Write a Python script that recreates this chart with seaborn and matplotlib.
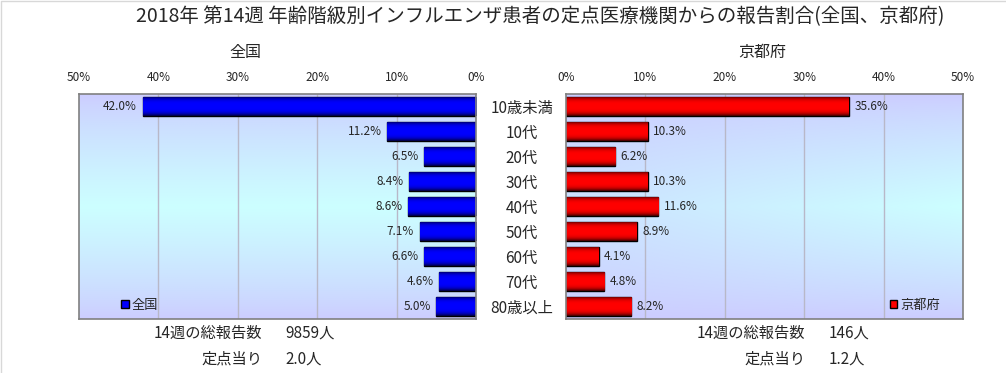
"""
2018 week 14 influenza age-group report share: nationwide vs Kyoto.
"""
import numpy as np
import pandas as pd
import matplotlib
matplotlib.use('Agg')
import matplotlib.pyplot as plt
import seaborn as sns
from matplotlib.patches import Patch
from matplotlib.lines import Line2D
from matplotlib.ticker import FuncFormatter

# data
age_groups = ['10歳未満', '10代', '20代', '30代', '40代', '50代', '60代', '70代', '80歳以上']
zenkoku = [42.0, 11.2, 6.5, 8.4, 8.6, 7.1, 6.6, 4.6, 5.0]
kyoto = [35.6, 10.3, 6.2, 10.3, 11.6, 8.9, 4.1, 4.8, 8.2]
title = '2018年 第14週 年齢階級別インフルエンザ患者の定点医療機関からの報告割合(全国、京都府)'
zenkoku_total = ('14週の総報告数', '9859人')
zenkoku_per = ('定点当り', '2.0人')
kyoto_total = ('14週の総報告数', '146人')
kyoto_per = ('定点当り', '1.2人')

sns.set_theme(style='white')
plt.rcParams['font.family'] = ['Noto Sans CJK JP', 'DejaVu Sans']

W, H = 1006, 373
fig = plt.figure(figsize=(W / 100, H / 100), dpi=100)
fig.patch.set_facecolor('white')


def px(x0, y0, x1, y1):
    """pixel box (top-left origin) -> figure rect"""
    return [x0 / W, 1 - y1 / H, (x1 - x0) / W, (y1 - y0) / H]


ax_l = fig.add_axes(px(79, 94, 476, 319))
ax_r = fig.add_axes(px(566, 94, 963, 319))

lav = np.array([0.80, 0.80, 1.00])
cyan = np.array([0.80, 1.00, 1.00])


def background(ax, kind):
    ny, nx = 200, 200
    yy, xx = np.mgrid[0:1:ny * 1j, 0:1:nx * 1j]
    tv = 1 - np.abs(yy - 0.5) * 2
    if kind == 'left':
        t = tv
    else:
        t = tv * (0.35 + 0.65 * xx)
    t = np.clip(t, 0, 1) ** 0.8
    img = lav[None, None, :] * (1 - t[..., None]) + cyan[None, None, :] * t[..., None]
    ax.imshow(img, extent=[0, 1, 0, 1], transform=ax.transAxes, aspect='auto', zorder=0)


def shade_bars(ax, base):
    base = np.array(base)
    prof = np.linspace(-1, 1, 64)
    k = 0.22 + 0.78 * (1 - np.abs(prof) ** 3.5)
    img = base[None, :] * k[:, None]
    img = img[:, None, :]
    for p in ax.patches:
        x, y = p.get_x(), p.get_y()
        w, h = p.get_width(), p.get_height()
        im = ax.imshow(img, extent=[x, x + w, y + h, y], aspect='auto', zorder=3)
        im.set_clip_path(p)


df_l = pd.DataFrame({'age': age_groups, 'pct': zenkoku})
df_r = pd.DataFrame({'age': age_groups, 'pct': kyoto})

for ax, df, col, side in [(ax_l, df_l, (0.0, 0.0, 1.0), 'left'),
                          (ax_r, df_r, (1.0, 0.0, 0.0), 'right')]:
    background(ax, side)
    sns.barplot(data=df, x='pct', y='age', orient='h', ax=ax, color=col,
                width=0.78, edgecolor='black', linewidth=1.0, saturation=1, zorder=2)
    shade_bars(ax, col)
    ax.set_xlim(0, 50)
    ax.set_ylim(len(age_groups) - 0.5, -0.5)
    ax.set_xticks([0, 10, 20, 30, 40, 50])
    ax.xaxis.set_major_formatter(FuncFormatter(lambda v, _: f'{v:.0f}%'))
    ax.xaxis.tick_top()
    ax.tick_params(axis='x', length=0, pad=7, labelsize=8.5)
    for g in [10, 20, 30, 40]:
        ax.axvline(g, color='#b8b8c8', lw=1, zorder=1)
    for s in ax.spines.values():
        s.set_color('#808080')
        s.set_linewidth(1.2)
        s.set_zorder(5)
    ax.set_xlabel('')
    ax.set_ylabel('')
    for i, v in enumerate(df['pct']):
        if side == 'left':
            ax.annotate(f'{v:.1f}%', (v, i), xytext=(-4, 0), textcoords='offset points',
                        ha='right', va='center', fontsize=8.5, zorder=6)
        else:
            ax.annotate(f'{v:.1f}%', (v, i), xytext=(4, 0), textcoords='offset points',
                        ha='left', va='center', fontsize=8.5, zorder=6)

ax_l.invert_xaxis()
ax_l.set_yticks([])
ax_r.set_yticks(range(len(age_groups)))
ax_r.set_yticklabels(age_groups, ha='center', fontsize=11)
ax_r.tick_params(axis='y', length=0, pad=32)

# legends
ax_l.legend(handles=[Patch(facecolor='blue', edgecolor='black', label='全国')],
            loc='lower left', bbox_to_anchor=(0.075, -0.02), frameon=False, fontsize=9.5,
            handlelength=0.6, handleheight=0.6, handletextpad=0.2)
ax_r.legend(handles=[Patch(facecolor='red', edgecolor='black', label='京都府')],
            loc='lower left', bbox_to_anchor=(0.785, -0.02), frameon=False, fontsize=9.5,
            handlelength=0.6, handleheight=0.6, handletextpad=0.2)

# titles
fig.text(540 / W, 1 - 17 / H, title, ha='center', va='center', fontsize=14)
fig.text(245 / W, 1 - 52 / H, '全国', ha='center', va='center', fontsize=11.5)
fig.text(762 / W, 1 - 52 / H, '京都府', ha='center', va='center', fontsize=11.5)

# totals
for (lab, val), y, xr, xv in [(zenkoku_total, 333, 262, 285), (zenkoku_per, 359, 262, 285),
                              (kyoto_total, 333, 805, 829), (kyoto_per, 359, 805, 829)]:
    fig.text(xr / W, 1 - y / H, lab, ha='right', va='center', fontsize=11)
    fig.text(xv / W, 1 - y / H, val, ha='left', va='center', fontsize=11)

# thin frame on top and left edges
fig.add_artist(Line2D([0.001, 0.001, 1.0], [0.0, 0.998, 0.998], transform=fig.transFigure,
                      color='#d8d8d8', lw=1))

fig.savefig('out.png', dpi=100)
